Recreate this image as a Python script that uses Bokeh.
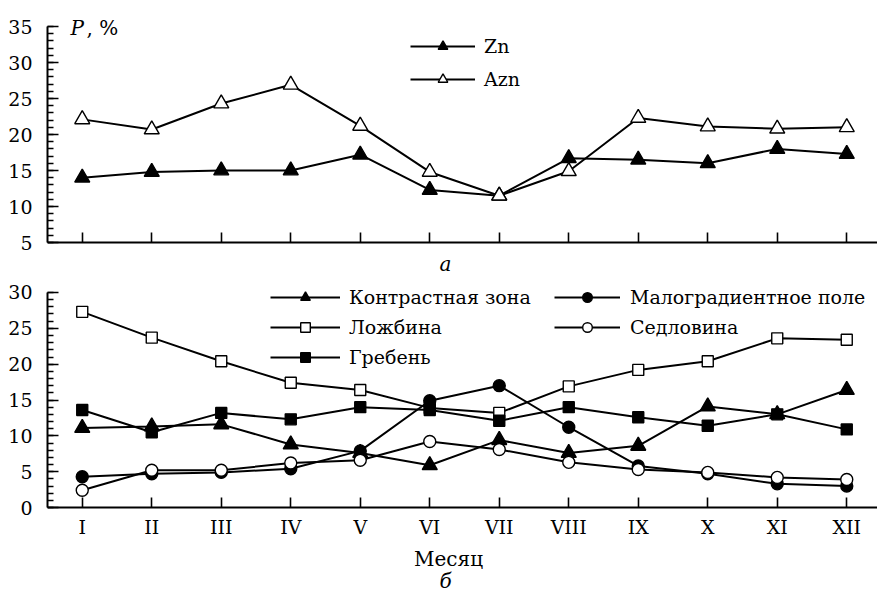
from bokeh.plotting import figure
from bokeh.layouts import column
from bokeh.models import Legend, LegendItem, Label, FixedTicker, Range1d, CustomLabelingPolicy
from bokeh.embed import file_html
from bokeh.resources import INLINE

months = ["I", "II", "III", "IV", "V", "VI", "VII", "VIII", "IX", "X", "XI", "XII"]
x = list(range(1, 13))

# panel a
zn = [14.0, 14.8, 15.0, 15.0, 17.2, 12.3, 11.5, 16.7, 16.5, 16.0, 18.0, 17.3]
azn = [22.1, 20.7, 24.3, 26.9, 21.2, 14.8, 11.5, 14.9, 22.3, 21.1, 20.8, 21.0]

# panel b
kontr = [11.1, 11.3, 11.6, 8.8, 7.6, 5.9, 9.4, 7.6, 8.6, 14.1, 13.0, 16.4]
malo = [4.3, 4.7, 4.9, 5.4, 7.9, 14.9, 17.0, 11.2, 5.8, 4.7, 3.3, 3.0]
lozh = [27.3, 23.7, 20.4, 17.4, 16.4, 13.9, 13.2, 16.9, 19.2, 20.4, 23.6, 23.4]
sedl = [2.4, 5.2, 5.2, 6.2, 6.6, 9.2, 8.1, 6.3, 5.3, 4.9, 4.2, 3.9]
greb = [13.6, 10.5, 13.2, 12.3, 14.0, 13.6, 12.1, 14.0, 12.6, 11.4, 13.0, 10.9]

FONT = "DejaVu Serif"
FS = "20px"
LFS = "19px"
TFS = "19px"
W = 877
LEFT = 47
XPX = 69.5          # pixels per month
X_END = 0.5 + (W - LEFT) / XPX

NO_LABELS = CustomLabelingPolicy(code="for (const i of indices) { indices.unset(i) } return indices")


def make_fig(height, ymin, ymax, yr, top, show_labels):
    p = figure(width=W, height=height, output_backend="svg", toolbar_location=None,
               x_range=Range1d(0.5, X_END), y_range=Range1d(*yr),
               min_border_left=LEFT, min_border_right=0, min_border_top=top,
               min_border_bottom=0)
    p.outline_line_color = None
    p.xgrid.visible = False
    p.ygrid.visible = False
    xa = p.xaxis[0]
    xa.fixed_location = ymin
    xa.ticker = FixedTicker(ticks=x)
    xa.major_label_overrides = {i: m for i, m in zip(x, months)}
    xa.axis_line_width = 2
    xa.major_tick_line_width = 1.6
    xa.major_tick_in = 10
    xa.major_tick_out = 0
    xa.minor_tick_line_color = None
    xa.major_label_text_font = FONT
    xa.major_label_text_font_size = TFS
    xa.major_label_text_color = "black"
    xa.major_label_standoff = 8
    if not show_labels:
        xa.major_label_policy = NO_LABELS
    ya = p.yaxis[0]
    ya.ticker = FixedTicker(ticks=list(range(ymin, ymax + 1, 5)),
                            minor_ticks=list(range(ymin, ymax + 1)))
    ya.bounds = (ymin, ymax)
    ya.axis_line_width = 2
    ya.major_tick_line_width = 1.6
    ya.minor_tick_line_width = 1.4
    ya.major_tick_in = 11
    ya.major_tick_out = 0
    ya.minor_tick_in = 6
    ya.minor_tick_out = 0
    ya.major_label_text_font = FONT
    ya.major_label_text_font_size = TFS
    ya.major_label_text_color = "black"
    ya.major_label_standoff = 15
    return p


def add_series(p, specs):
    lines = []
    for vals, marker, fill, size in specs:
        lines.append(p.line(x, vals, line_color="black", line_width=2))
    items = []
    for (vals, marker, fill, size), lr in zip(specs, lines):
        sr = p.scatter(x, vals, marker=marker, size=size, fill_color=fill,
                       line_color="black", line_width=1.4)
        items.append((lr, sr))
    return items


def legend(items, labels, loc, gw, standoff, gh, spacing):
    return Legend(items=[LegendItem(label=l, renderers=list(r)) for l, r in zip(labels, items)],
                  location=loc, glyph_width=gw, glyph_height=gh, label_height=gh,
                  label_standoff=standoff, spacing=spacing, padding=0, margin=0,
                  border_line_color=None, background_fill_alpha=0,
                  label_text_font=FONT, label_text_font_size=LFS,
                  label_text_color="black")


def text(p, xv, yv, s, style="normal", align="left"):
    p.add_layout(Label(x=xv, y=yv, text=s, text_font=FONT, text_font_size=FS,
                       text_font_style=style, text_baseline="middle", text_align=align,
                       text_color="black"))


# ---------- top panel (а): frame 14..277 px, 7.2 px per unit, y=5 at 242 px ----------
TOP_H = 277
top = make_fig(TOP_H, 5, 35, (5 - 35 / 7.2, 35 + 12 / 7.2), 14, False)
it = add_series(top, [(zn, "triangle", "black", 15), (azn, "triangle", "white", 15)])
top.add_layout(legend(it, ["Zn", "Azn"], (363, 186), 65, 9, 24, 9))
text(top, 0.831, 34.86, "P", "italic")
text(top, 1.06, 34.86, ", %")
text(top, 6.227, 2.08, "а", "italic", "center")

# ---------- bottom panel (б): frame 277..594 px, 7.167 px per unit, y=0 at 507 px ----------
BOT_H = 594 - TOP_H
bot = make_fig(BOT_H, 0, 30, (-87 / 7.167, 30 + 15 / 7.167), 0, True)
itb = add_series(bot, [(kontr, "triangle", "black", 15), (lozh, "square", "white", 11),
                       (greb, "square", "black", 11), (malo, "circle", "black", 12),
                       (sedl, "circle", "white", 12)])
bot.add_layout(legend(itb[:3], ["Контрастная зона", "Ложбина", "Гребень"],
                      (223, 225), 70, 9, 24, 6))
bot.add_layout(legend(itb[3:], ["Малоградиентное поле", "Седловина"],
                      (507, 255), 66, 10, 24, 6))
text(bot, 6.27, -7.2, "Месяц", "normal", "center")
text(bot, 6.227, -10.2, "б", "italic", "center")

layout = column(top, bot, spacing=0)
open("out.html", "w").write(file_html(layout, INLINE))
